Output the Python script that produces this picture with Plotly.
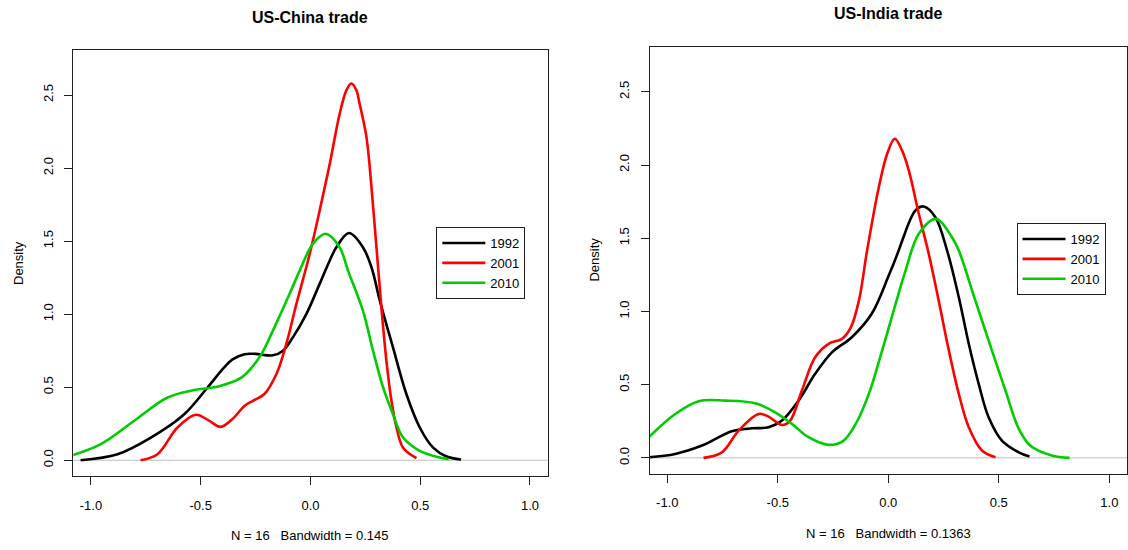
import plotly.graph_objects as go

# ---------------- data ----------------
years = ["1992", "2001", "2010"]
colors = ["#000000", "#FF0000", "#00CD00"]

# US-China trade
china_1992_x = [-1.047, -0.879, -0.727, -0.575, -0.469, -0.393, -0.355, -0.30, -0.25, -0.171, -0.125, -0.08,
                -0.019, 0.042, 0.088, 0.118, 0.176, 0.239, 0.278, 0.316, 0.376, 0.437, 0.498, 0.559,
                0.62, 0.686]
china_1992_y = [0.0, 0.041, 0.155, 0.315, 0.498, 0.635, 0.69, 0.726, 0.728, 0.718, 0.75, 0.841,
                1.0, 1.207, 1.367, 1.458, 1.555, 1.458, 1.321, 1.093, 0.772, 0.453, 0.224, 0.086,
                0.025, 0.005]

china_2001_x = [-0.774, -0.697, -0.606, -0.523, -0.466, -0.409, -0.35, -0.301, -0.262, -0.21, -0.155, -0.11,
                -0.064, -0.019, 0.004, 0.042, 0.088, 0.133, 0.164, 0.186, 0.209, 0.224, 0.255, 0.278,
                0.30, 0.323, 0.346, 0.369, 0.392, 0.422, 0.483]
china_2001_y = [0.0, 0.041, 0.224, 0.311, 0.275, 0.228, 0.29, 0.372, 0.407, 0.453, 0.59, 0.796,
                1.07, 1.321, 1.458, 1.71, 2.03, 2.37, 2.533, 2.579, 2.533, 2.44, 2.213, 1.87,
                1.47, 1.05, 0.681, 0.407, 0.224, 0.086, 0.014]

china_2010_x = [-1.107, -0.955, -0.803, -0.651, -0.53, -0.42, -0.313, -0.27, -0.222, -0.171, -0.095, -0.049,
                0.011, 0.069, 0.133, 0.171, 0.239, 0.285, 0.331, 0.376, 0.422, 0.498, 0.589, 0.63]
china_2010_y = [0.023, 0.11, 0.27, 0.429, 0.48, 0.505, 0.567, 0.63, 0.73, 0.887, 1.139, 1.298,
                1.481, 1.55, 1.458, 1.298, 1.024, 0.75, 0.498, 0.315, 0.155, 0.064, 0.018, 0.007]

# US-India trade
india_1992_x = [-1.084, -0.964, -0.843, -0.708, -0.617, -0.542, -0.481, -0.406, -0.331, -0.255, -0.165,
                -0.075, 0.002, 0.047, 0.062, 0.123, 0.160, 0.213, 0.266, 0.319, 0.364, 0.409,
                0.454, 0.514, 0.59, 0.639]
india_1992_y = [0.004, 0.027, 0.084, 0.182, 0.202, 0.209, 0.255, 0.391, 0.574, 0.721, 0.824,
                0.984, 1.245, 1.416, 1.48, 1.69, 1.717, 1.643, 1.416, 1.097, 0.779, 0.505,
                0.277, 0.118, 0.038, 0.009]

india_2001_x = [-0.836, -0.753, -0.677, -0.587, -0.542, -0.481, -0.444, -0.391, -0.331, -0.27, -0.21,
                -0.17, -0.133, -0.096, -0.043, -0.005, 0.029, 0.062, 0.093, 0.138, 0.183, 0.228,
                0.274, 0.319, 0.364, 0.424, 0.485]
india_2001_y = [0.0, 0.038, 0.186, 0.3, 0.282, 0.225, 0.255, 0.46, 0.687, 0.779, 0.813,
                0.89, 1.074, 1.416, 1.848, 2.077, 2.179, 2.1, 1.962, 1.667, 1.393, 1.074,
                0.733, 0.437, 0.209, 0.05, 0.004]

india_2010_x = [-1.084, -0.964, -0.858, -0.738, -0.602, -0.512, -0.436, -0.361, -0.27, -0.205, -0.15,
                -0.088, -0.028, 0.033, 0.078, 0.138, 0.216, 0.288, 0.319, 0.394, 0.469, 0.53,
                0.59, 0.642, 0.739, 0.82]
india_2010_y = [0.141, 0.3, 0.387, 0.391, 0.373, 0.311, 0.232, 0.141, 0.089, 0.115, 0.225,
                0.437, 0.733, 1.052, 1.279, 1.53, 1.632, 1.507, 1.416, 1.074, 0.733, 0.46,
                0.2, 0.084, 0.016, 0.0]

titles = ["US-China trade", "US-India trade"]
xlabels = ["N = 16\u00a0\u00a0\u00a0Bandwidth = 0.145", "N = 16\u00a0\u00a0\u00a0Bandwidth = 0.1363"]
ylabel = "Density"
x_tickvals = [-1.0, -0.5, 0.0, 0.5, 1.0]
x_ticktext = ["-1.0", "-0.5", "0.0", "0.5", "1.0"]
y_tickvals = [0.0, 0.5, 1.0, 1.5, 2.0, 2.5]
y_ticktext = ["0.0", "0.5", "1.0", "1.5", "2.0", "2.5"]

# ---------------- figure ----------------
W, H = 1128, 550
FONT = "Arial, Liberation Sans, sans-serif"
fig = go.Figure()

panels = [
    ("x", "y", "legend", [(china_1992_x, china_1992_y), (china_2001_x, china_2001_y), (china_2010_x, china_2010_y)]),
    ("x2", "y2", "legend2", [(india_1992_x, india_1992_y), (india_2001_x, india_2001_y), (india_2010_x, india_2010_y)]),
]
for xa, ya, lg, series in panels:
    for (sx, sy), yr, col in zip(series, years, colors):
        fig.add_trace(go.Scatter(x=sx, y=sy, mode="lines", name=yr, xaxis=xa, yaxis=ya,
                                 legend=lg, hoverinfo="skip",
                                 line=dict(color=col, width=2.6, shape="spline", smoothing=1.0)))

# panel pixel boxes: (left, top, right, bottom)
boxes = [(73.4, 50, 547.5, 476), (649.6, 46.7, 1127, 473.7)]

def dom(b):
    l, t, r, bt = b
    return [l / W, r / W], [1 - bt / H, 1 - t / H]

axis_common = dict(showline=True, linecolor="#202020", linewidth=1, mirror=True,
                   ticks="outside", ticklen=8, tickcolor="#202020", showgrid=False,
                   zeroline=False, tickfont=dict(family=FONT, size=13, color="#000000"))

for i, b in enumerate(boxes):
    xd, yd = dom(b)
    sfx = "" if i == 0 else str(i + 1)
    fig.update_layout(**{
        "xaxis" + sfx: dict(domain=xd, range=[-1.08, 1.08], tickvals=x_tickvals, ticktext=x_ticktext,
                            anchor="y" + sfx, ticklabelstandoff=9, **axis_common),
        "yaxis" + sfx: dict(domain=yd, range=[-0.108, 2.808], tickvals=y_tickvals, ticktext=y_ticktext,
                            anchor="x" + sfx, tickangle=-90, ticklabelstandoff=6, **axis_common),
    })
    # gray zero line
    fig.add_shape(type="line", xref="x%s domain" % sfx, yref="y" + sfx, x0=0, x1=1, y0=0, y1=0,
                  line=dict(color="#BEBEBE", width=1), layer="below")

# titles and axis labels
ann = []
title_pos = [(309.7, 17.3), (888.8, 13.5)]
xlab_pos = [(310.3, 535), (888.3, 533.3)]
ylab_pos = [(18, 263), (594.6, 260)]
for i in range(2):
    tx, ty = title_pos[i]
    ann.append(dict(text="<b>%s</b>" % titles[i], x=tx / W, y=1 - ty / H, xref="paper", yref="paper",
                    showarrow=False, xanchor="center", yanchor="middle",
                    font=dict(family=FONT, size=16, color="#000000")))
    lx, ly = xlab_pos[i]
    ann.append(dict(text=xlabels[i], x=lx / W, y=1 - ly / H, xref="paper", yref="paper",
                    showarrow=False, xanchor="center", yanchor="middle",
                    font=dict(family=FONT, size=13, color="#000000")))
    yx, yy = ylab_pos[i]
    ann.append(dict(text=ylabel, x=yx / W, y=1 - yy / H, xref="paper", yref="paper",
                    showarrow=False, xanchor="center", yanchor="middle", textangle=-90,
                    font=dict(family=FONT, size=13, color="#000000")))

legend_style = dict(bgcolor="white", bordercolor="#202020", borderwidth=1,
                    font=dict(family=FONT, size=13, color="#000000"),
                    xanchor="left", yanchor="top", tracegroupgap=0, itemwidth=43)

fig.update_layout(
    width=W, height=H, margin=dict(l=0, r=0, t=0, b=0),
    paper_bgcolor="white", plot_bgcolor="white",
    annotations=ann, showlegend=True, hovermode=False,
    legend=dict(x=436.3 / W, y=1 - 227 / H, **legend_style),
    legend2=dict(x=1016.5 / W, y=1 - 223 / H, **legend_style),
)

fig.write_html("out.html", config={"displayModeBar": False},
               post_script="document.body.style.margin='0';document.body.style.overflow='hidden';")
